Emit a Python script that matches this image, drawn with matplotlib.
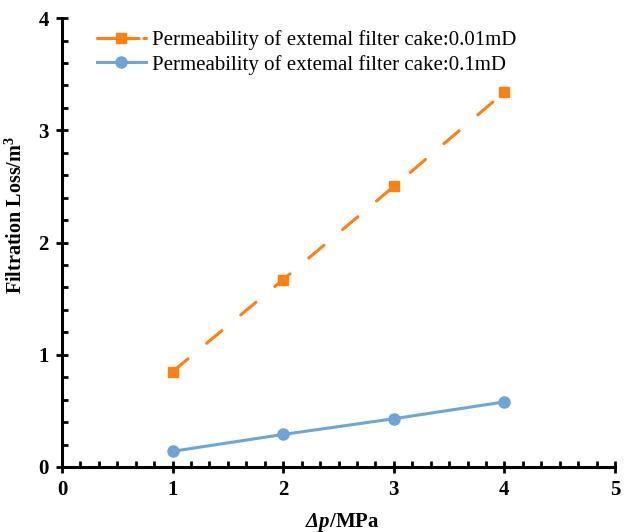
import matplotlib
matplotlib.use("Agg")
import matplotlib.pyplot as plt
from matplotlib.ticker import MultipleLocator, AutoMinorLocator

plt.rcParams['font.family'] = ['Liberation Serif', 'DejaVu Serif']
plt.rcParams['mathtext.fontset'] = 'custom'
plt.rcParams['mathtext.rm'] = 'Liberation Serif:bold'
plt.rcParams['mathtext.it'] = 'Liberation Serif:italic:bold'
plt.rcParams['mathtext.bf'] = 'Liberation Serif:bold'
plt.rcParams['mathtext.sf'] = 'Liberation Serif:italic:bold'

dp = [1, 2, 3, 4]
loss_001 = [0.85, 1.67, 2.50, 3.34]
loss_01 = [0.14, 0.29, 0.43, 0.58]
labels = ["Permeability of extemal filter cake:0.01mD",
          "Permeability of extemal filter cake:0.1mD"]

fig = plt.figure(figsize=(6.24, 5.32), dpi=100)
ax = fig.add_axes([0.0994, 0.1222, 0.8862, 0.8438])

orange = '#FF800E'
blue = '#6DA5D8'
ax.plot(dp, loss_001, color=orange, lw=2.2, dashes=(6.5, 8), dash_capstyle='round',
        marker='s', ms=7, label=labels[0])
ax.plot(dp, loss_01, color=blue, lw=2.2, marker='o', ms=8, label=labels[1])

ax.set_xlim(0, 5)
ax.set_ylim(0, 4)
ax.xaxis.set_major_locator(MultipleLocator(1))
ax.yaxis.set_major_locator(MultipleLocator(1))
ax.xaxis.set_minor_locator(AutoMinorLocator(6))
ax.yaxis.set_minor_locator(AutoMinorLocator(5))
for s in ['top', 'right']:
    ax.spines[s].set_visible(False)
for s in ['left', 'bottom']:
    ax.spines[s].set_linewidth(2.2)
ax.tick_params(which='major', direction='inout', length=9, width=2.0,
               labelsize=15, pad=5)
ax.tick_params(which='minor', direction='in', length=4, width=2.0)
for lab in ax.get_xticklabels() + ax.get_yticklabels():
    lab.set_fontweight('bold')

ax.set_xlabel(r'$\mathsf{Δp}$/MPa', fontsize=15, fontweight='bold')
ax.xaxis.set_label_coords(0.506, -0.097)
ax.set_ylabel('Filtration Loss/m$^{\\mathbf{3}}$', fontsize=14.5, fontweight='bold')
ax.yaxis.set_label_coords(-0.063, 0.561)

leg = ax.legend(loc='upper left', bbox_to_anchor=(0.04, 1.0), frameon=False,
                fontsize=15, handlelength=2.35, handletextpad=0.3, labelspacing=0.2,
                borderaxespad=0.2)
leg.get_lines()[0].set_dashes((6, 1.6))
leg.get_lines()[0].set_dash_capstyle('round')

fig.savefig('out.png', dpi=100)
